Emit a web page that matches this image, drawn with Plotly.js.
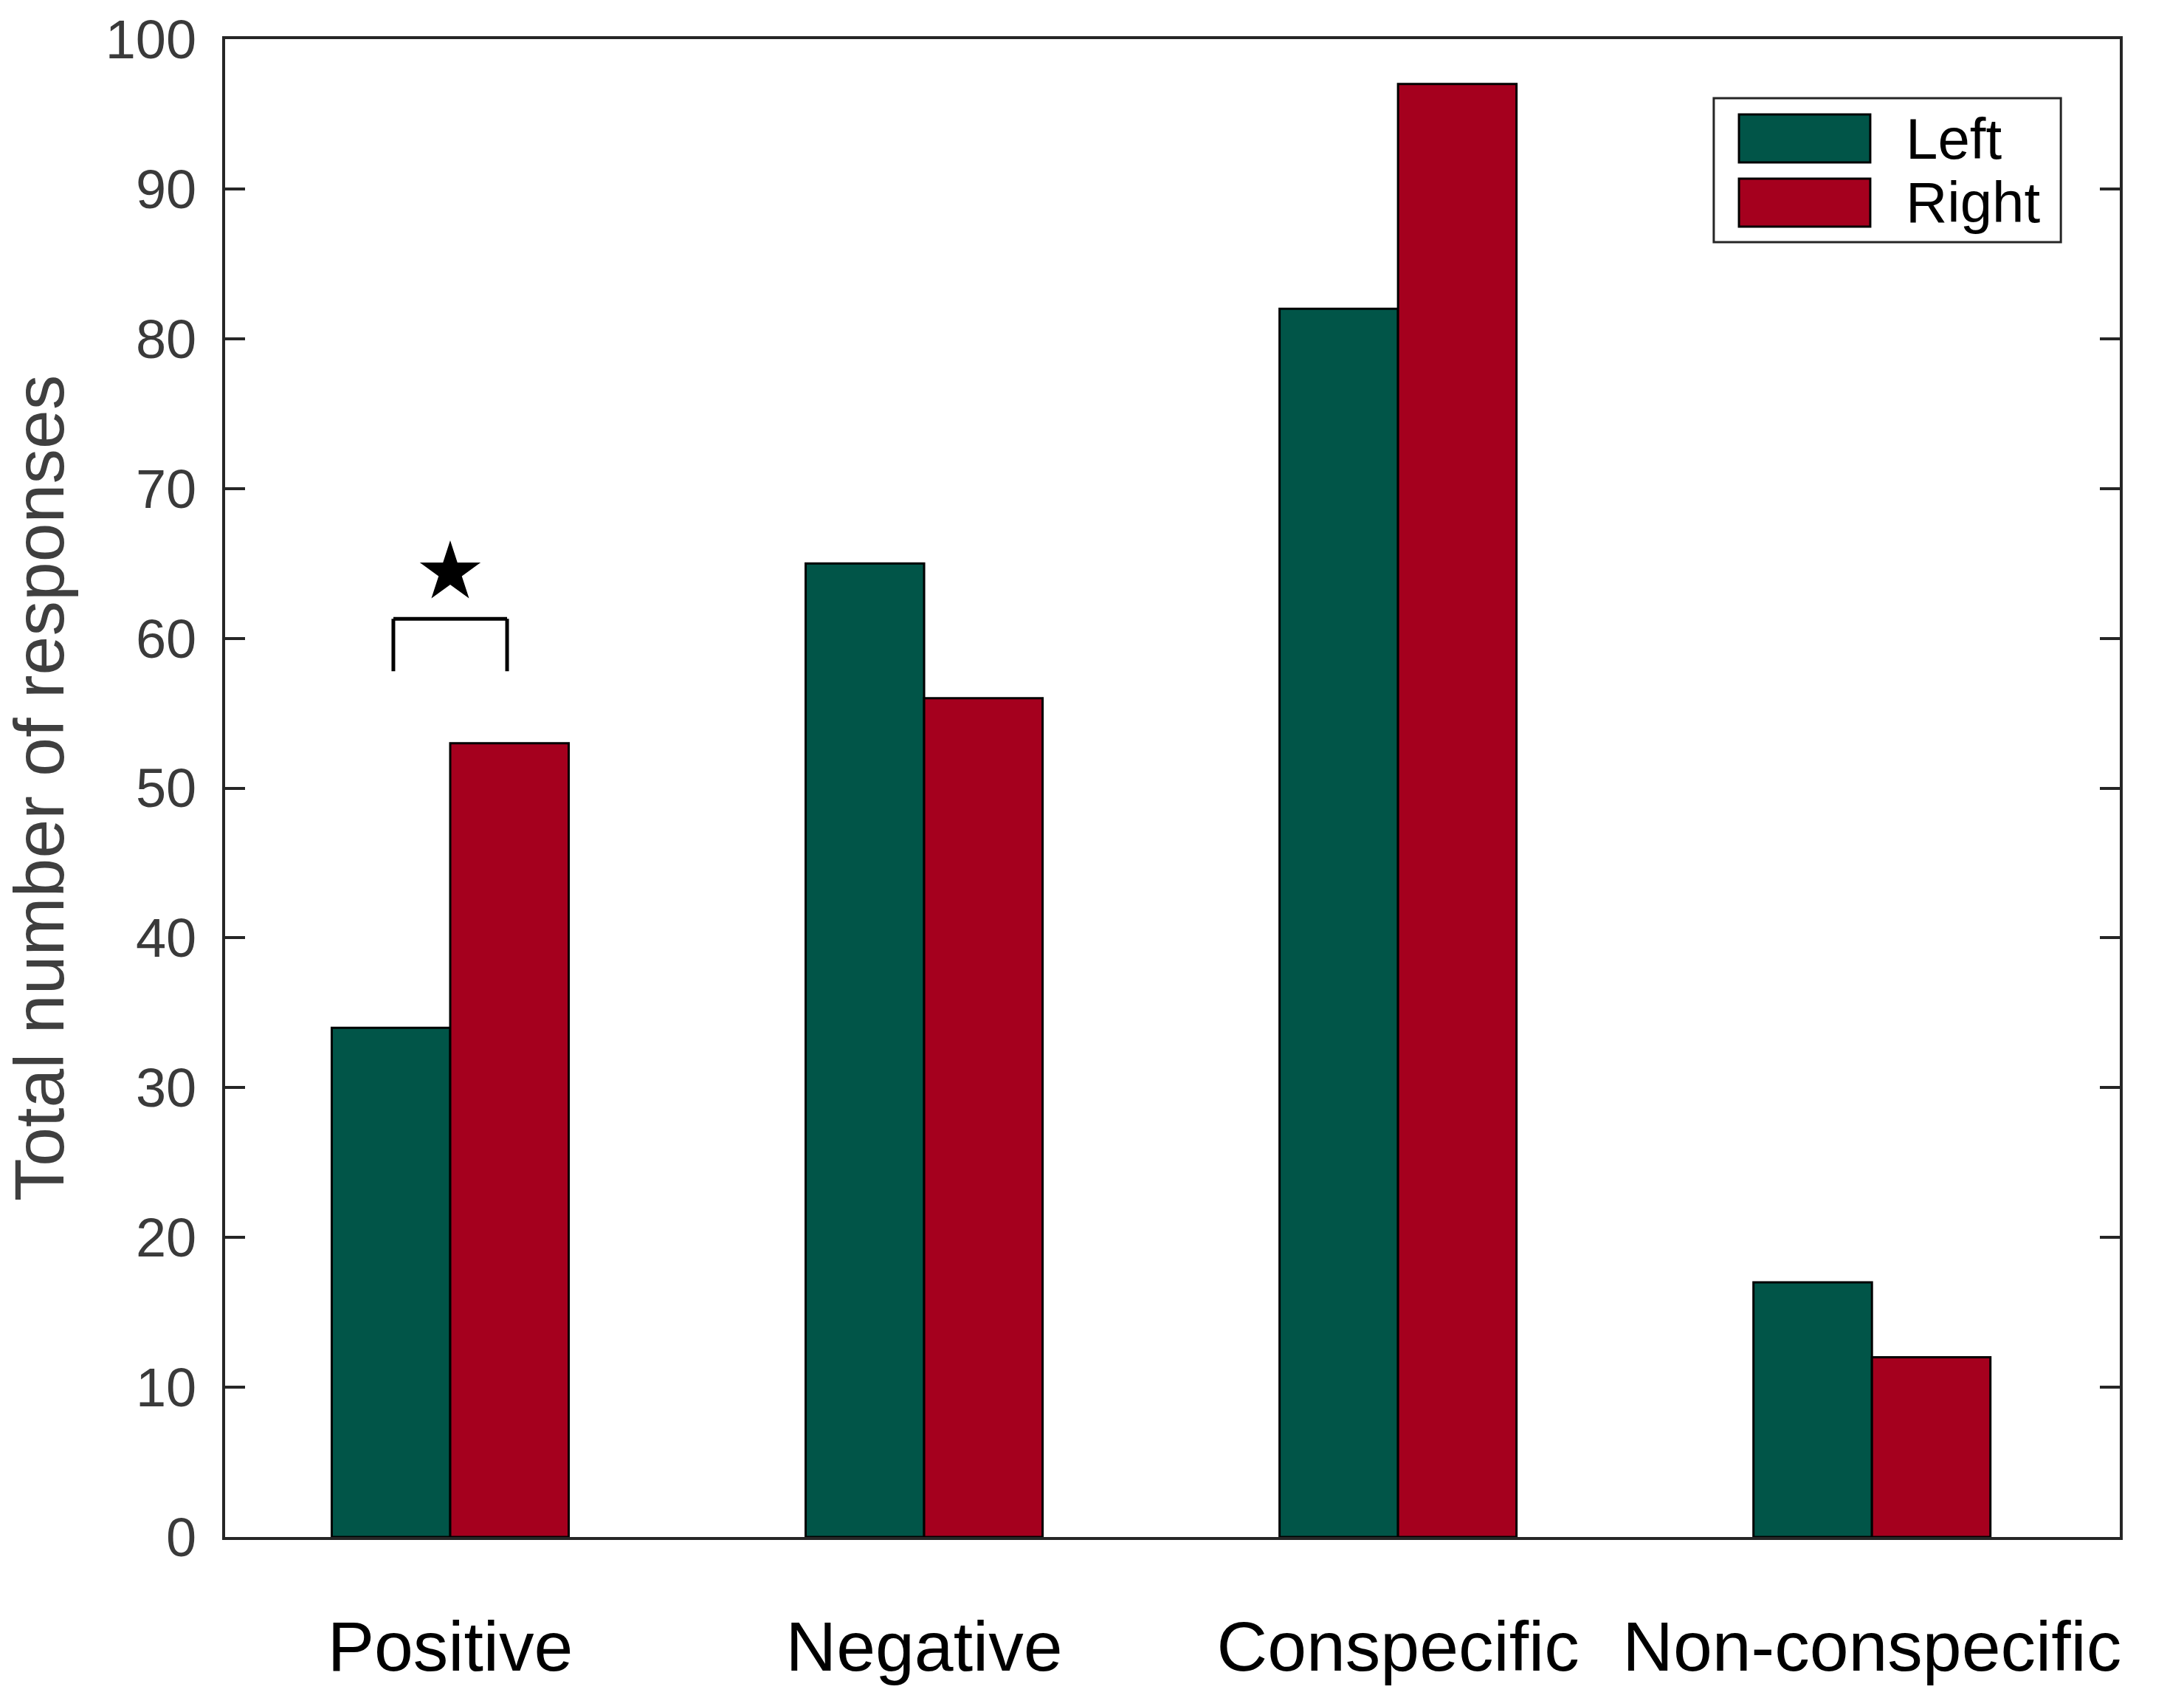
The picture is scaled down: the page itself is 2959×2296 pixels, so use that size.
<!DOCTYPE html>
<html>
<head>
<meta charset="utf-8">
<script src="https://cdn.plot.ly/plotly-3.0.1.min.js"></script>
<style>html,body{margin:0;padding:0;background:#fff;}</style>
</head>
<body>
<div id="chart" style="width:2959px;height:2296px;"></div>
<script>
// ---- data ----
const categories = ["Positive", "Negative", "Conspecific", "Non-conspecific"];
const seriesNames = ["Left", "Right"];
const leftValues = [34, 65, 82, 17];
const rightValues = [53, 56, 97, 12];
const yTickValues = [0, 10, 20, 30, 40, 50, 60, 70, 80, 90, 100];
const yAxisTitle = "Total number of responses";
const significanceMark = { category: "Positive", y: 64.4, bracketLow: 57.8, bracketHigh: 61.3 };

const colors = ["#015548", "#a5001e"];
const FONT = "Liberation Sans, Arial, Helvetica, sans-serif";

const traces = [
  {
    type: "bar", name: seriesNames[0], x: categories, y: leftValues,
    marker: { color: colors[0], line: { color: "#000", width: 3 } },
    showlegend: false, hoverinfo: "skip"
  },
  {
    type: "bar", name: seriesNames[1], x: categories, y: rightValues,
    marker: { color: colors[1], line: { color: "#000", width: 3 } },
    showlegend: false, hoverinfo: "skip"
  },
  {
    type: "scatter", mode: "markers", x: [significanceMark.category], y: [significanceMark.y],
    marker: { symbol: "star", size: 62, color: "#000", line: { width: 0 } },
    showlegend: false, hoverinfo: "skip", cliponaxis: false
  }
];

const sigIdx = categories.indexOf(significanceMark.category);
const bx0 = sigIdx - 0.12, bx1 = sigIdx + 0.12;

// legend geometry (paper coords)
const lg = { x0: 0.7857, x1: 0.9689, y0: 0.8645, y1: 0.9606,
  sx0: 0.7990, sx1: 0.8683, rows: [[0.9177, 0.9497], [0.8748, 0.9069]], tx: 0.8863 };

const shapes = [
  // significance bracket
  { type: "line", xref: "x", yref: "y", x0: bx0, x1: bx0, y0: significanceMark.bracketLow, y1: significanceMark.bracketHigh, line: { color: "#000", width: 5 } },
  { type: "line", xref: "x", yref: "y", x0: bx0, x1: bx1, y0: significanceMark.bracketHigh, y1: significanceMark.bracketHigh, line: { color: "#000", width: 5 } },
  { type: "line", xref: "x", yref: "y", x0: bx1, x1: bx1, y0: significanceMark.bracketLow, y1: significanceMark.bracketHigh, line: { color: "#000", width: 5 } },
  // legend box
  { type: "rect", xref: "paper", yref: "paper", x0: lg.x0, x1: lg.x1, y0: lg.y0, y1: lg.y1, line: { color: "#262626", width: 3 }, fillcolor: "#fff", layer: "above" }
];
const annotations = [];
seriesNames.forEach((nm, i) => {
  shapes.push({ type: "rect", xref: "paper", yref: "paper", x0: lg.sx0, x1: lg.sx1, y0: lg.rows[i][0], y1: lg.rows[i][1], fillcolor: colors[i], line: { color: "#000", width: 3 }, layer: "above" });
  annotations.push({ xref: "paper", yref: "paper", x: lg.tx, y: (lg.rows[i][0] + lg.rows[i][1]) / 2, text: nm, showarrow: false, xanchor: "left", yanchor: "middle", font: { family: FONT, size: 78, color: "#000" } });
});

const layout = {
  width: 2959, height: 2296,
  margin: { l: 305, r: 87, t: 53, b: 214 },
  paper_bgcolor: "#fff", plot_bgcolor: "#fff",
  barmode: "group", bargap: 0.5, bargroupgap: 0,
  font: { family: FONT },
  xaxis: {
    type: "category", range: [-0.475, 3.523], autorange: false,
    showline: true, linecolor: "#262626", linewidth: 4, mirror: true,
    ticks: "", showgrid: false, zeroline: false,
    tickfont: { family: FONT, size: 95, color: "#000" },
    ticklabelstandoff: 63
  },
  yaxis: {
    range: [0, 100], autorange: false,
    tickvals: yTickValues, ticktext: yTickValues.map(String),
    showline: true, linecolor: "#262626", linewidth: 4, mirror: "ticks",
    ticks: "inside", ticklen: 27, tickwidth: 4, tickcolor: "#262626",
    showgrid: false, zeroline: false,
    tickfont: { family: FONT, size: 74, color: "#3a3a3a" },
    ticklabelstandoff: 20,
    title: { text: yAxisTitle, font: { family: FONT, size: 95, color: "#3f3f3f" }, standoff: 30 },
    automargin: false
  },
  shapes: shapes,
  annotations: annotations,
  showlegend: false
};

Plotly.newPlot("chart", traces, layout, { staticPlot: true, displayModeBar: false });
</script>
</body>
</html>
